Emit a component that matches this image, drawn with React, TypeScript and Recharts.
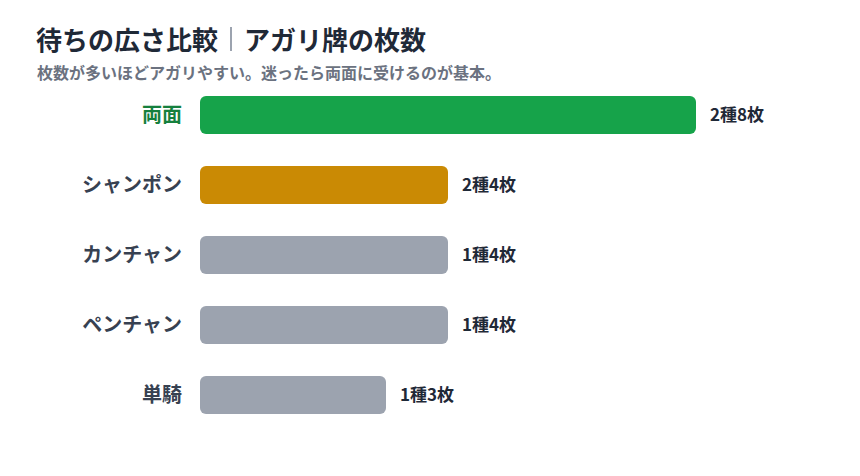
import { Bar, BarChart, Cell, LabelList, XAxis, YAxis } from 'recharts'

const FONT = '"Noto Sans CJK JP", "Noto Sans", sans-serif'

const COLORS = {
  best: '#16a34a',
  mid: '#ca8a04',
  rest: '#9ca3af',
  bestText: '#15803d',
  label: '#374151',
  value: '#1f2937',
  title: '#1f2937',
  sub: '#6b7280',
}

const WAITS = ['両面', 'シャンポン', 'カンチャン', 'ペンチャン', '単騎']
const KINDS = [2, 2, 1, 1, 1]
const TILES = [8, 4, 4, 4, 3]
const BAR_COLORS = [COLORS.best, COLORS.mid, COLORS.rest, COLORS.rest, COLORS.rest]

const data = WAITS.map((name, i) => ({ name, tiles: TILES[i], kinds: KINDS[i] }))

function WaitTick(props: { x?: number; y?: number; payload?: { value: string; index: number } }) {
  const { y, payload } = props
  if (!payload) return null
  const first = payload.value === WAITS[0]
  return (
    <text
      x={182}
      y={y}
      dy={7}
      textAnchor="end"
      fontFamily={FONT}
      fontSize={20}
      fontWeight={700}
      fill={first ? COLORS.bestText : COLORS.label}
    >
      {payload.value}
    </text>
  )
}

function ValueLabel(props: any) {
  const { x, y, width, height, index } = props
  return (
    <text
      x={x + width + 14}
      y={y + height / 2}
      dy={6}
      fontFamily={FONT}
      fontSize={17}
      fontWeight={700}
      fill={COLORS.value}
    >
      {`${KINDS[index]}種${TILES[index]}枚`}
    </text>
  )
}

export default function App() {
  return (
    <div
      style={{
        position: 'absolute',
        left: 0,
        top: 0,
        width: 860,
        height: 476,
        background: '#fff',
        fontFamily: FONT,
      }}
    >
      <div
        style={{
          position: 'absolute',
          left: 36,
          top: 21,
          fontSize: 26,
          fontWeight: 700,
          color: COLORS.title,
          display: 'flex',
          alignItems: 'center',
          whiteSpace: 'nowrap',
          lineHeight: '36px',
        }}
      >
        待ちの広さ比較
        <span
          style={{
            display: 'inline-block',
            width: 2,
            height: 24,
            background: '#9ca3af',
            margin: '0 12px 0 12px',
          }}
        />
        アガリ牌の枚数
      </div>
      <div
        style={{
          position: 'absolute',
          left: 37,
          top: 61,
          fontSize: 16,
          fontWeight: 700,
          color: COLORS.sub,
          whiteSpace: 'nowrap',
          lineHeight: '22px',
        }}
      >
        枚数が多いほどアガリやすい。迷ったら両面に受けるのが基本。
      </div>
      <BarChart
        width={860}
        height={476}
        data={data}
        layout="vertical"
        margin={{ top: 80, right: 164, bottom: 46, left: 0 }}
        barSize={38}
        style={{ position: 'absolute', left: 0, top: 0 }}
      >
        <XAxis type="number" domain={[0, 8]} hide />
        <YAxis
          type="category"
          dataKey="name"
          width={200}
          axisLine={false}
          tickLine={false}
          tick={<WaitTick />}
        />
        <Bar dataKey="tiles" radius={6} isAnimationActive={false}>
          {data.map((d, i) => (
            <Cell key={d.name} fill={BAR_COLORS[i]} />
          ))}
          <LabelList dataKey="tiles" content={<ValueLabel />} />
        </Bar>
      </BarChart>
    </div>
  )
}
